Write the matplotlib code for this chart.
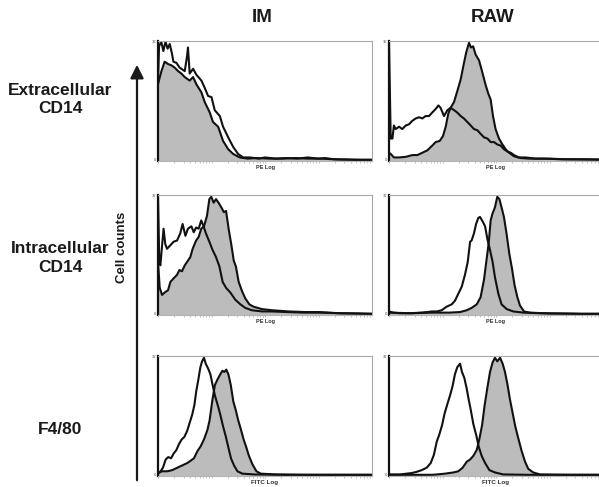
import matplotlib.pyplot as plt
import matplotlib.patches as mpatches
import numpy as np

plt.rcParams['font.family'] = ['Liberation Sans', 'DejaVu Sans']

col_titles = ['IM', 'RAW']
row_labels = ['Extracellular\nCD14', 'Intracellular\nCD14', 'F4/80']
x_labels = ['PE Log', 'PE Log', 'FITC Log']

# x = position on the log fluorescence axis (0..1), y = cell counts (% of max)
# filled = stained sample (grey), open = control (black outline)

# row 1, extracellular CD14
im_ext_fill_x = [0, 0.016, 0.031, 0.047, 0.062, 0.078, 0.094, 0.109, 0.125, 0.148,
                 0.164, 0.179, 0.203, 0.218, 0.242, 0.257, 0.281, 0.304, 0.328, 0.351,
                 0.382, 0.42, 0.46, 0.52, 0.58, 0.64, 0.70, 0.76, 0.84, 0.92, 1.0]
im_ext_fill_y = [64, 75, 83, 81, 80, 78, 75, 73, 70, 67,
                 70, 64, 57, 49, 40, 32, 28, 16, 9, 5,
                 2, 1, 1.5, 1, 1, 1.5, 1, 1, 0.3, 0, 0]
im_ext_open_x = [0, 0.005, 0.015, 0.025, 0.035, 0.045, 0.055, 0.065, 0.072, 0.086,
                 0.101, 0.125, 0.136, 0.140, 0.148, 0.164, 0.179, 0.203, 0.218, 0.234,
                 0.250, 0.265, 0.289, 0.304, 0.328, 0.351, 0.374, 0.398,
                 0.43, 0.47, 0.50, 0.55, 0.60, 0.65, 0.70, 0.75, 0.78, 0.82, 0.88, 0.95, 1.0]
im_ext_open_y = [65, 96, 100, 92, 100, 94, 98, 90, 83, 82,
                 78, 75, 88, 95, 73, 77, 72, 67, 61, 54,
                 53, 42, 37, 28, 19, 11, 5, 2,
                 2, 1, 2, 1, 1.5, 1, 2, 1, 1.5, 0.5, 0.3, 0, 0]

raw_ext_fill_x = [0, 0.008, 0.023, 0.047, 0.078, 0.109, 0.132, 0.156, 0.179, 0.202,
                  0.218, 0.237, 0.252, 0.265, 0.277, 0.288, 0.304, 0.319, 0.335, 0.347,
                  0.361, 0.374, 0.383, 0.393, 0.405, 0.421, 0.436, 0.452, 0.464, 0.475,
                  0.486, 0.498, 0.514, 0.530, 0.545, 0.561, 0.584, 0.615, 0.654, 0.72,
                  0.80, 0.90, 1.0]
raw_ext_fill_y = [6, 5, 2, 2, 2.5, 4, 4, 6, 8, 12,
                  15, 16, 20, 28, 39, 44, 49, 58, 68, 79,
                  91, 99, 95, 96, 89, 84, 74, 63, 56, 51,
                  37, 26, 18, 13, 9, 6, 3, 1.5, 1, 1,
                  0.5, 0.3, 0]
raw_ext_open_x = [0, 0.008, 0.016, 0.023, 0.031, 0.047, 0.062, 0.078, 0.093, 0.109,
                  0.125, 0.140, 0.156, 0.171, 0.187, 0.202, 0.218, 0.231, 0.241, 0.257,
                  0.273, 0.288, 0.304, 0.319, 0.335, 0.350, 0.366, 0.382, 0.397, 0.413,
                  0.428, 0.444, 0.460, 0.475, 0.491, 0.506, 0.522, 0.537, 0.553, 0.569,
                  0.584, 0.607, 0.639, 0.685, 0.75, 0.82, 0.90, 1.0]
raw_ext_open_y = [100, 18, 18, 29, 26, 28, 26, 29, 30, 33,
                  35, 36, 35, 37, 37, 40, 43, 46, 44, 37,
                  42, 44, 42, 40, 37, 35, 32, 29, 26, 25,
                  22, 19, 18, 15, 15, 13, 12, 9, 7, 6,
                  4, 2, 2, 1, 1, 0.5, 0.5, 0.3]

# row 2, intracellular CD14
im_int_fill_x = [0, 0.008, 0.019, 0.031, 0.047, 0.058, 0.073, 0.089, 0.100, 0.112,
                 0.125, 0.140, 0.151, 0.162, 0.178, 0.190, 0.202, 0.215, 0.229, 0.240,
                 0.249, 0.260, 0.271, 0.283, 0.296, 0.308, 0.318, 0.330, 0.343, 0.354,
                 0.364, 0.377, 0.393, 0.408, 0.427, 0.447, 0.486, 0.533, 0.611, 0.688,
                 0.751, 0.844, 1.0]
im_int_fill_y = [44, 22, 16, 18, 20, 27, 30, 33, 37, 36,
                 41, 45, 48, 55, 62, 65, 72, 74, 83, 97,
                 99, 94, 97, 94, 90, 86, 87, 72, 58, 45,
                 40, 27, 19, 13, 8, 6, 4, 3, 2, 1.5,
                 1.5, 0.5, 0]
im_int_open_x = [0, 0.006, 0.011, 0.026, 0.034, 0.042, 0.058, 0.073, 0.089, 0.104,
                 0.115, 0.128, 0.140, 0.156, 0.167, 0.178, 0.190, 0.202, 0.213, 0.224,
                 0.240, 0.255, 0.271, 0.287, 0.302, 0.318, 0.338, 0.361, 0.385, 0.408,
                 0.439, 0.486, 0.533, 0.60, 0.68, 0.76, 0.85, 0.93, 1.0]
im_int_open_y = [100, 44, 41, 72, 59, 55, 58, 61, 62, 68,
                 76, 66, 72, 74, 69, 73, 72, 79, 74, 68,
                 61, 54, 48, 40, 27, 22, 18, 12, 8, 5,
                 3, 2, 2, 1.5, 1, 1, 0.5, 0.3, 0]

raw_int_fill_x = [0, 0.10, 0.20, 0.28, 0.332, 0.363, 0.386, 0.410, 0.428, 0.444,
                  0.456, 0.466, 0.475, 0.484, 0.495, 0.506, 0.516, 0.526, 0.537, 0.550,
                  0.562, 0.575, 0.587, 0.600, 0.612, 0.631, 0.659, 0.75, 0.90, 1.0]
raw_int_fill_y = [1, 0.5, 1, 1, 1.5, 3, 5, 8, 14, 29,
                  46, 60, 79, 85, 90, 99, 97, 90, 82, 67,
                  51, 38, 24, 14, 7, 2, 1, 0.3, 0, 0]
raw_int_open_x = [0, 0.01, 0.02, 0.05, 0.10, 0.15, 0.18, 0.20, 0.223, 0.246,
                  0.269, 0.293, 0.308, 0.324, 0.340, 0.355, 0.368, 0.379, 0.386, 0.397,
                  0.407, 0.417, 0.425, 0.438, 0.449, 0.460, 0.472, 0.484, 0.495, 0.511,
                  0.526, 0.550, 0.581, 0.628, 0.70, 0.80, 0.90, 1.0]
raw_int_open_y = [2, 1.5, 1, 0.5, 0.5, 1, 1.5, 2, 2, 3,
                  6, 8, 11, 17, 23, 33, 44, 61, 62, 68,
                  76, 81, 82, 78, 74, 63, 54, 44, 31, 17,
                  8, 4, 2, 1, 0.5, 0.3, 0, 0]

# row 3, F4/80
im_f480_fill_x = [0, 0.020, 0.044, 0.067, 0.090, 0.114, 0.137, 0.153, 0.168, 0.184,
                  0.199, 0.215, 0.231, 0.241, 0.254, 0.266, 0.279, 0.291, 0.301, 0.310,
                  0.319, 0.329, 0.340, 0.352, 0.363, 0.375, 0.388, 0.400, 0.413, 0.425,
                  0.441, 0.460, 0.480, 0.55, 0.70, 1.0]
im_f480_fill_y = [1.5, 3, 3, 4, 6, 8, 10, 12, 14, 20,
                  24, 30, 38, 46, 63, 76, 81, 85, 88, 87,
                  89, 85, 76, 62, 55, 46, 38, 30, 23, 16,
                  9, 3, 1, 0.3, 0, 0]
im_f480_open_x = [0, 0.012, 0.023, 0.036, 0.048, 0.061, 0.073, 0.086, 0.098, 0.111,
                  0.123, 0.136, 0.148, 0.160, 0.170, 0.179, 0.188, 0.198, 0.206, 0.215,
                  0.223, 0.234, 0.245, 0.254, 0.266, 0.279, 0.291, 0.304, 0.316, 0.329,
                  0.341, 0.355, 0.371, 0.394, 0.45, 0.60, 0.80, 1.0]
im_f480_open_y = [1, 3, 6, 13, 15, 14, 18, 21, 26, 30,
                  32, 37, 44, 51, 59, 71, 80, 91, 96, 99,
                  94, 90, 85, 77, 67, 59, 51, 41, 33, 23,
                  14, 8, 3, 1, 0.3, 0, 0, 0]

raw_f480_fill_x = [0, 0.20, 0.223, 0.262, 0.301, 0.324, 0.344, 0.363, 0.379, 0.394,
                   0.410, 0.422, 0.435, 0.447, 0.460, 0.472, 0.484, 0.495, 0.506, 0.519,
                   0.531, 0.542, 0.553, 0.565, 0.578, 0.590, 0.604, 0.620, 0.636, 0.651,
                   0.674, 0.706, 0.85, 1.0]
raw_f480_fill_y = [0, 0, 0.3, 1, 2, 3, 6, 11, 13, 16,
                   21, 30, 42, 59, 74, 87, 95, 99, 96, 99,
                   94, 87, 77, 64, 52, 41, 31, 20, 11, 5,
                   2, 0.3, 0, 0]
raw_f480_open_x = [0, 0.05, 0.083, 0.106, 0.129, 0.153, 0.176, 0.195, 0.210, 0.223,
                   0.235, 0.248, 0.260, 0.273, 0.285, 0.297, 0.308, 0.319, 0.332, 0.341,
                   0.352, 0.363, 0.372, 0.382, 0.394, 0.407, 0.419, 0.433, 0.449, 0.469,
                   0.495, 0.534, 0.65, 0.80, 1.0]
raw_f480_open_y = [0.3, 0.3, 1, 1.5, 2.5, 4, 6, 10, 17, 28,
                   34, 42, 52, 60, 67, 75, 85, 91, 94, 87,
                   82, 73, 64, 55, 43, 34, 24, 16, 10, 4,
                   2, 0.3, 0, 0, 0]

panels = [
    [(im_ext_fill_x, im_ext_fill_y, im_ext_open_x, im_ext_open_y),
     (raw_ext_fill_x, raw_ext_fill_y, raw_ext_open_x, raw_ext_open_y)],
    [(im_int_fill_x, im_int_fill_y, im_int_open_x, im_int_open_y),
     (raw_int_fill_x, raw_int_fill_y, raw_int_open_x, raw_int_open_y)],
    [(im_f480_fill_x, im_f480_fill_y, im_f480_open_x, im_f480_open_y),
     (raw_f480_fill_x, raw_f480_fill_y, raw_f480_open_x, raw_f480_open_y)],
]

W, H = 599, 487
fig = plt.figure(figsize=(W / 100, H / 100), dpi=100)

col_left = [158, 389]   # px
row_top = [41, 195, 356]  # px
ax_w, ax_h = 214, 120

# log decade ticks along the bottom (4 decades)
minor = [(d + np.log10(k)) / 4 for d in range(4) for k in range(1, 10)]

for r in range(3):
    for c in range(2):
        fx, fy, ox, oy = panels[r][c]
        ax = fig.add_axes([col_left[c] / W, 1 - (row_top[r] + ax_h) / H, ax_w / W, ax_h / H])
        ax.fill_between(fx, fy, -2, color='#bcbcbc', lw=0)
        ax.plot(fx, fy, color='#111111', lw=1.5)
        ax.plot(ox, oy, color='#111111', lw=1.5)
        ax.set_xlim(0, 1)
        ax.set_ylim(-1, 100.5)
        ax.spines['left'].set_color('#111111')
        ax.spines['left'].set_linewidth(1.6)
        for s in ['top', 'right']:
            ax.spines[s].set_color('#a8a8a8')
            ax.spines[s].set_linewidth(0.8)
        ax.spines['bottom'].set_color('#b5b5b5')
        ax.spines['bottom'].set_linewidth(0.8)
        ax.set_xticks(minor)
        ax.set_xticklabels([])
        ax.tick_params(axis='x', length=1.5, width=0.5, color='#aaaaaa', direction='out')
        ax.set_yticks([0, 100])
        ax.set_yticklabels(['0', '32'], fontsize=3, color='#555555')
        ax.tick_params(axis='y', length=0, pad=1.5)
        ax.text(0.5, -0.035, x_labels[r], transform=ax.transAxes, ha='center', va='top',
                fontsize=4 if r < 2 else 4.5, fontweight='bold', color='#333333')

for c in range(2):
    fig.text((col_left[c] + 104) / W, 1 - 18 / H, col_titles[c], ha='center', va='center',
             fontsize=13.5, fontweight='bold', color='#1a1a1a')

label_y = [100, 258, 430]
for r in range(3):
    fig.text(60 / W, 1 - label_y[r] / H, row_labels[r], ha='center', va='center',
             fontsize=12.5, fontweight='bold', color='#1a1a1a', linespacing=1.25)

fig.text(122 / W, 1 - 247 / H, 'Cell counts', rotation=90, ha='center', va='center',
         fontsize=9.5, fontweight='bold', color='#1a1a1a')

arrow = mpatches.FancyArrowPatch((137 / W, 1 - 483 / H), (137 / W, 1 - 62 / H),
                                 transform=fig.transFigure, arrowstyle='-|>',
                                 mutation_scale=20, lw=1.6, color='#1a1a1a')
fig.add_artist(arrow)

fig.savefig('out.png', dpi=100)
